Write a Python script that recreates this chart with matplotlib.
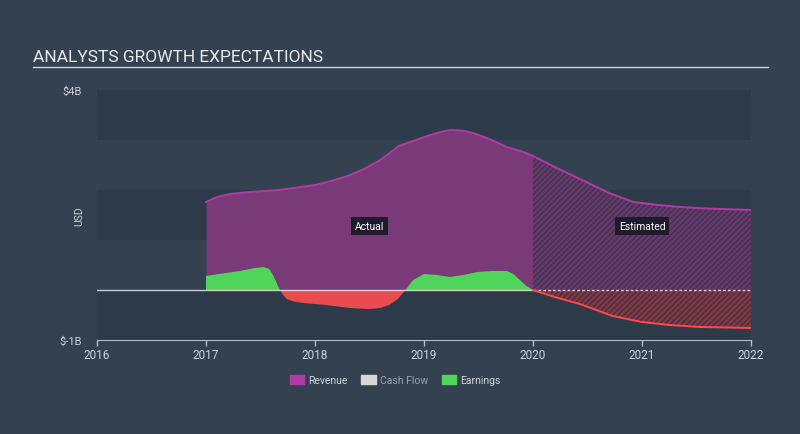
import numpy as np
import matplotlib
matplotlib.use("Agg")
import matplotlib.pyplot as plt
from matplotlib.lines import Line2D
from matplotlib.patches import Patch

# ------------------------------------------------------------------
# DATA (USD billions)
# ------------------------------------------------------------------
rev_years = [2017.0, 2017.1, 2017.22, 2017.4, 2017.67, 2018.0, 2018.15, 2018.3,
             2018.45, 2018.6, 2018.77, 2018.9, 2019.03, 2019.15, 2019.24, 2019.35,
             2019.45, 2019.6, 2019.76, 2019.9, 2020.0]
rev_values = [1.76, 1.86, 1.92, 1.96, 2.0, 2.1, 2.18, 2.28,
              2.42, 2.6, 2.88, 2.98, 3.08, 3.16, 3.2, 3.19,
              3.14, 3.02, 2.86, 2.77, 2.68]

rev_est_years = [2020.0, 2020.2, 2020.43, 2020.7, 2020.92, 2021.15, 2021.35, 2021.6, 2022.0]
rev_est_values = [2.68, 2.46, 2.22, 1.94, 1.76, 1.7, 1.66, 1.63, 1.6]

earn_years = [2017.0, 2017.15, 2017.31, 2017.45, 2017.53, 2017.58, 2017.62, 2017.66,
              2017.7, 2017.74, 2017.8, 2017.89, 2018.1, 2018.32, 2018.5, 2018.6,
              2018.68, 2018.76, 2018.83, 2018.9, 2019.0, 2019.12, 2019.24, 2019.36,
              2019.49, 2019.62, 2019.76, 2019.82, 2019.88, 2019.94, 2020.0]
earn_values = [0.28, 0.33, 0.38, 0.44, 0.46, 0.42, 0.28, 0.08,
               -0.08, -0.18, -0.23, -0.26, -0.3, -0.36, -0.38, -0.36,
               -0.3, -0.18, 0.0, 0.2, 0.32, 0.3, 0.26, 0.3,
               0.36, 0.38, 0.38, 0.32, 0.2, 0.08, 0.0]

earn_est_years = [2020.0, 2020.2, 2020.43, 2020.73, 2021.0, 2021.25, 2021.53, 2021.8, 2022.0]
earn_est_values = [0.0, -0.14, -0.28, -0.52, -0.64, -0.7, -0.74, -0.75, -0.76]

year_ticks = [2016, 2017, 2018, 2019, 2020, 2021, 2022]
y_ticks = [4, -1]
y_labels = ["$4B", "$-1B"]
legend_names = ["Revenue", "Cash Flow", "Earnings"]

# ------------------------------------------------------------------
# STYLE
# ------------------------------------------------------------------
bg = "#334151"
band = "#2d3a49"
txt = "#cfd5dc"
purple = "#7a3a78"
purple_line = "#b23ba3"
green = "#4fd65a"
red = "#e84c4f"
red_line = "#ff4a4a"

plt.rcParams["font.family"] = ["Roboto", "DejaVu Sans"]

fig = plt.figure(figsize=(8, 4.35), dpi=100, facecolor=bg)
ax = fig.add_axes([97 / 800, 94 / 435, 654 / 800, 250 / 435])
ax.set_facecolor(bg)

# alternating bands
for lo in [-1, 1, 3]:
    ax.axhspan(lo, lo + 1, color=band, lw=0, zorder=0)

rx = np.array(rev_years)
ry = np.array(rev_values)
ax.fill_between(rx, 0, ry, color=purple, lw=0, zorder=1)
ax.plot(rx, ry, color=purple_line, lw=1.4, zorder=4)

ex = np.array(rev_est_years)
ey = np.array(rev_est_values)
ax.fill_between(ex, 0, ey, facecolor="#633a6c", edgecolor="#45304f",
                hatch="//////", lw=0, zorder=1)
ax.plot(ex, ey, color=purple_line, lw=1.4, zorder=4)

gx = np.array(earn_years)
gy = np.array(earn_values)
ax.fill_between(gx, 0, gy, where=gy >= 0, interpolate=True, color=green, lw=0, zorder=2)
ax.fill_between(gx, 0, gy, where=gy <= 0, interpolate=True, color=red, lw=0, zorder=2)

kx = np.array(earn_est_years)
ky = np.array(earn_est_values)
ax.fill_between(kx, 0, ky, facecolor="#7d3a47", edgecolor="#4e2c3a",
                hatch="//////", lw=0, zorder=2)
ax.plot(kx, ky, color=red_line, lw=1.4, zorder=4)

# zero line
ax.plot([2016, 2020], [0, 0], color="#e6e6e6", lw=1, alpha=0.85, zorder=3)
ax.plot([2020, 2022], [0, 0], color="#e6e6e6", lw=1, ls=(0, (2, 1.5)), alpha=0.85, zorder=3)

# labels
box = dict(boxstyle="square,pad=0.35", facecolor="#1f1b2c", edgecolor="none")
ax.text(2018.5, 1.28, "Actual", color="white", fontsize=7.5, ha="center", va="center", bbox=box, zorder=5)
ax.text(2021.0, 1.28, "Estimated", color="white", fontsize=7.5, ha="center", va="center", bbox=box, zorder=5)

ax.set_xlim(2016, 2022)
ax.set_ylim(-1, 4)
ax.set_xticks(year_ticks)
ax.set_xticklabels([str(y) for y in year_ticks])
ax.set_yticks(y_ticks)
ax.set_yticklabels(y_labels)
ax.tick_params(axis="x", colors="#b4bec8", labelcolor=txt, length=4, width=1, labelsize=8.5, pad=2)
ax.tick_params(axis="y", length=0, labelcolor=txt, labelsize=8, pad=11)
for s in ["top", "right", "left"]:
    ax.spines[s].set_visible(False)
ax.spines["bottom"].set_color("#b4bec8")
ax.set_ylabel("USD", color=txt, fontsize=7.5)
ax.yaxis.set_label_coords(-0.02, 0.5)

# title + underline
fig.text(33 / 800, 1 - 57 / 435, "ANALYSTS GROWTH EXPECTATIONS", color="#e8ebee",
         fontsize=12.5, ha="left", va="center")
fig.add_artist(Line2D([33 / 800, 768 / 800], [1 - 68 / 435, 1 - 68 / 435],
                      color="#d0d5db", lw=1, transform=fig.transFigure))

# legend
handles = [Patch(color=purple_line), Patch(color="#d6d6d6"), Patch(color=green)]
leg = fig.legend(handles, legend_names, loc="center", bbox_to_anchor=(0.494, 1 - 381 / 435),
                 ncol=3, frameon=False, fontsize=7.5, handlelength=1.4, handleheight=0.9,
                 handletextpad=0.4, columnspacing=1.3)
for t, c in zip(leg.get_texts(), [txt, "#9aa3ad", txt]):
    t.set_color(c)

fig.savefig("out.png", dpi=100, facecolor=bg)
